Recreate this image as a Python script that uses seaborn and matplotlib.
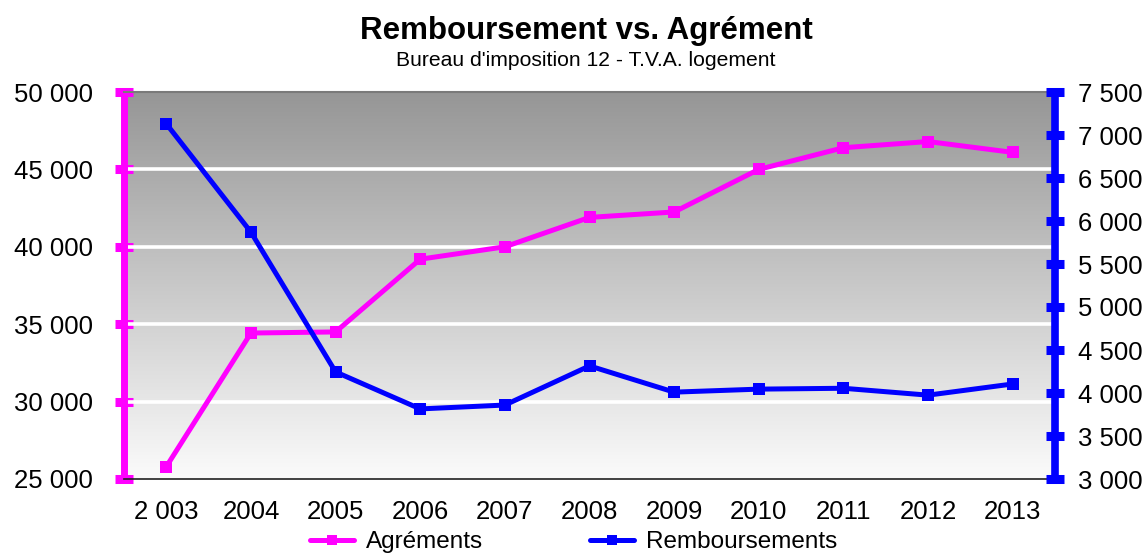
import numpy as np
import pandas as pd
import matplotlib
matplotlib.use("Agg")
import matplotlib.pyplot as plt
from matplotlib.colors import LinearSegmentedColormap
from matplotlib.ticker import FuncFormatter, FixedLocator
from matplotlib.lines import Line2D
import seaborn as sns

# ---- data ----
years = ["2 003", "2004", "2005", "2006", "2007", "2008", "2009", "2010", "2011", "2012", "2013"]
agrements = [25800, 34430, 34500, 39200, 40000, 41900, 42250, 45000, 46400, 46800, 46100]
remboursements = [7130, 5870, 4245, 3815, 3860, 4315, 4010, 4045, 4055, 3975, 4105]
left_ticks = [25000, 30000, 35000, 40000, 45000, 50000]
right_ticks = [3000, 3500, 4000, 4500, 5000, 5500, 6000, 6500, 7000, 7500]

title = "Remboursement vs. Agrément"
subtitle = "Bureau d'imposition 12 - T.V.A. logement"

sns.set_style("white")
plt.rcParams["font.family"] = ["Liberation Sans", "DejaVu Sans"]
plt.rcParams["text.color"] = "black"

MAG = "#FF00FF"
BLU = "#0000FF"
FS = 18.5

df = pd.DataFrame({"pos": np.arange(len(years)), "year": years,
                   "Agréments": agrements, "Remboursements": remboursements})

fig = plt.figure(figsize=(11.47, 5.56), dpi=100)
ax = fig.add_axes([124 / 1147, 1 - 479 / 556, (1055 - 124) / 1147, (479 - 92) / 556])

# gradient background
cmap = LinearSegmentedColormap.from_list("g", ["#fbfbfb", "#969696"])
grad = np.linspace(0, 1, 256)[:, None]
ax.imshow(grad, extent=[-0.5, len(years) - 0.5, 25000, 50000], origin="lower",
          aspect="auto", cmap=cmap, zorder=0)

for v in left_ticks[1:-1]:
    ax.axhline(v, color="white", lw=2.6, zorder=1)

sns.lineplot(data=df, x="pos", y="Agréments", ax=ax, color=MAG, lw=3.6,
             marker="s", markersize=8.5, markeredgewidth=0, zorder=3, legend=False)
ax.set_xlim(-0.5, len(years) - 0.5)
ax.set_ylim(25000, 50000)

ax2 = ax.twinx()
sns.lineplot(data=df, x="pos", y="Remboursements", ax=ax2, color=BLU, lw=3.6,
             marker="s", markersize=8.5, markeredgewidth=0, zorder=3, legend=False)
ax2.set_ylim(3000, 7500)
ax2.set_xlim(-0.5, len(years) - 0.5)

fmt = FuncFormatter(lambda v, p: f"{int(v):,}".replace(",", " "))

# left axis
ax.yaxis.set_major_locator(FixedLocator(left_ticks))
ax.yaxis.set_major_formatter(fmt)
ax.tick_params(axis="y", direction="inout", length=13, width=6.5, color=MAG,
               labelsize=FS, labelcolor="black", pad=16)
ax.set_ylabel("")
ax.set_xlabel("")

# x axis
ax.set_xticks(np.arange(len(years)))
ax.set_xticklabels(years)
ax.xaxis.set_minor_locator(FixedLocator(np.arange(-0.5, len(years), 1.0)))
ax.tick_params(axis="x", which="major", length=0, labelsize=FS, labelcolor="black", pad=15)
ax.tick_params(axis="x", which="minor", direction="inout", length=11, width=1.2, color="#222222")

for s in ["left", "right", "top", "bottom"]:
    ax.spines[s].set_visible(False)
    ax2.spines[s].set_visible(False)
ax.spines["left"].set_visible(True)
ax.spines["left"].set_color(MAG)
ax.spines["left"].set_linewidth(5)
ax.spines["bottom"].set_visible(True)
ax.spines["bottom"].set_color("#222222")
ax.spines["bottom"].set_linewidth(1.2)
ax.spines["top"].set_visible(True)
ax.spines["top"].set_color("#7a7a7a")
ax.spines["top"].set_linewidth(1.5)

ax2.spines["right"].set_visible(True)
ax2.spines["right"].set_color(BLU)
ax2.spines["right"].set_linewidth(5.5)
ax2.yaxis.set_major_locator(FixedLocator(right_ticks))
ax2.yaxis.set_major_formatter(fmt)
ax2.tick_params(axis="y", direction="inout", length=13, width=6.5, color=BLU,
                labelsize=FS, labelcolor="black", pad=10)
ax2.set_ylabel("")
ax2.set_xlabel("")

# titles
fig.text(0.511, 1 - 31 / 556, title, ha="center", va="center", fontsize=22.5,
         fontweight="bold", color="black")
fig.text(0.511, 1 - 60 / 556, subtitle, ha="center", va="center", fontsize=15.2,
         color="black")

handles = [Line2D([], [], color=MAG, lw=3.6, marker="s", markersize=7, markeredgewidth=0),
           Line2D([], [], color=BLU, lw=3.6, marker="s", markersize=7, markeredgewidth=0)]
fig.legend(handles, ["Agréments", "Remboursements"], loc="center",
           bbox_to_anchor=(0.5, 1 - 542 / 556), ncol=2, frameon=False,
           fontsize=17.5, handlelength=1.8, handletextpad=0.5, columnspacing=4.4,
           borderpad=0, borderaxespad=0, labelcolor="black")

fig.savefig("out.png", dpi=100)
